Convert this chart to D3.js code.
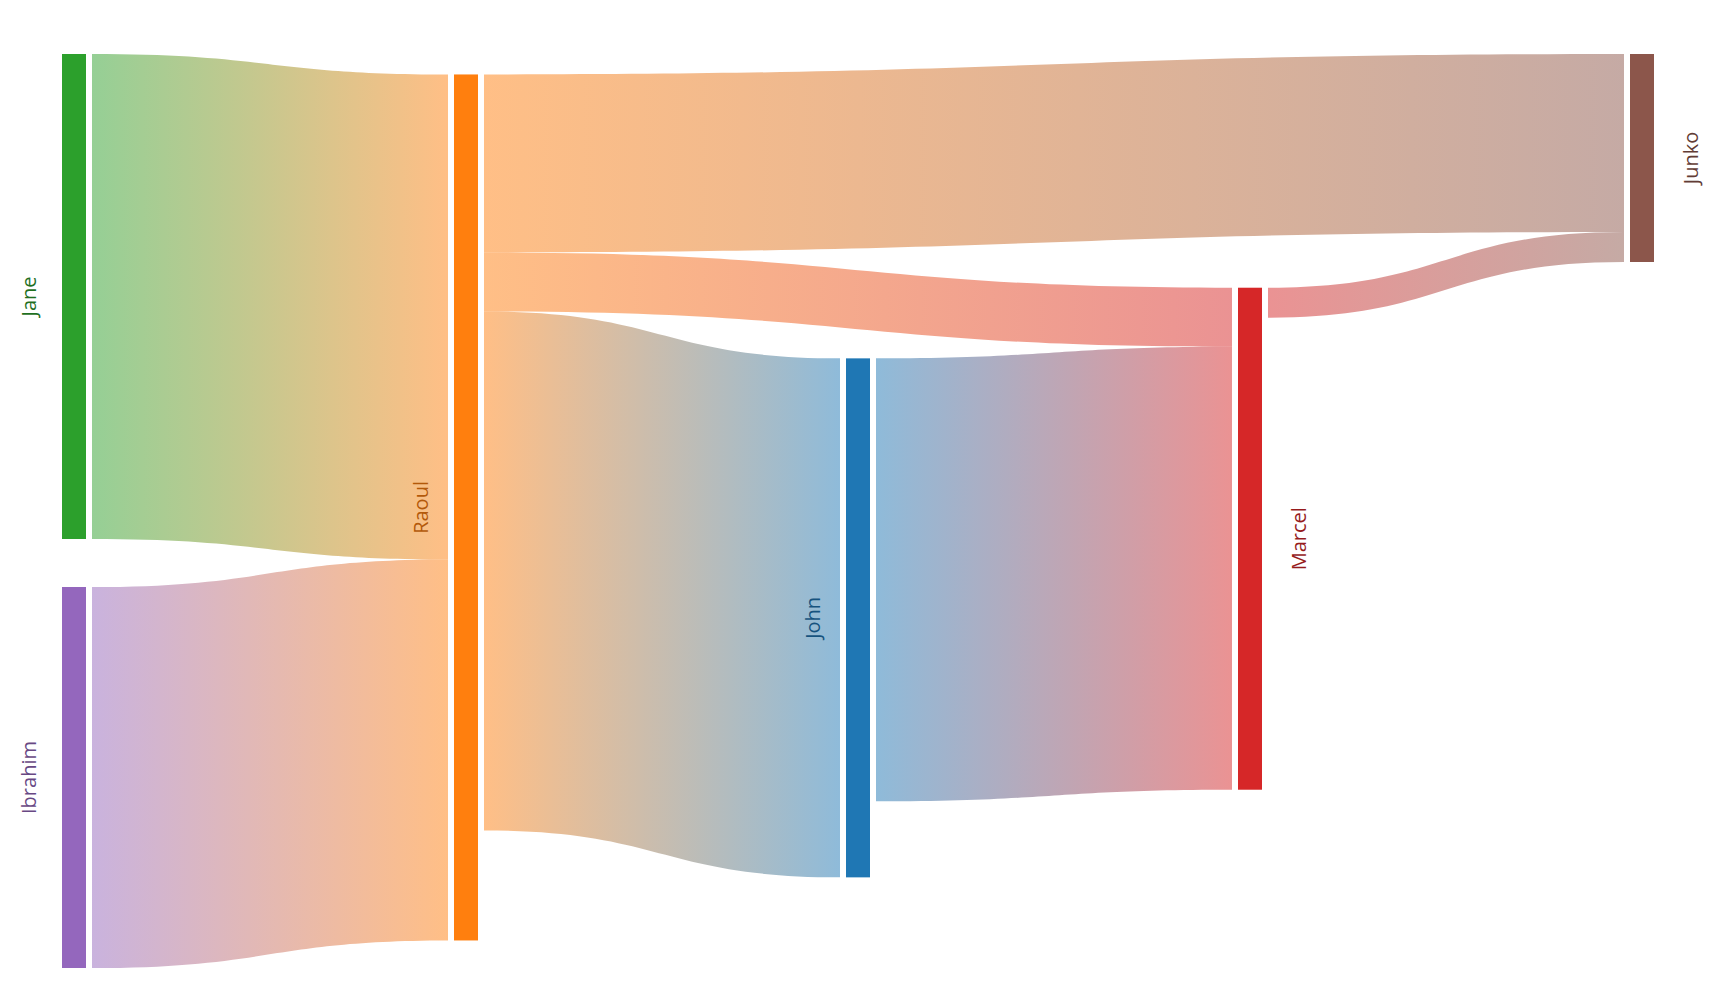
<!DOCTYPE html>
<html>
<head>
<meta charset="utf-8">
<script src="https://cdn.jsdelivr.net/npm/d3@7"></script>
<style>
  html, body { margin: 0; padding: 0; background: #fff; }
  svg { display: block; }
  text { font-family: "Open Sans", "Noto Sans", sans-serif; }
</style>
</head>
<body>
<svg id="chart" width="1728" height="998"></svg>
<script>
// ---------------- data ----------------
const nodeNames   = ["John", "Raoul", "Jane", "Marcel", "Ibrahim", "Junko"];
const linkSources = ["Jane", "Ibrahim", "Raoul", "Raoul", "Raoul", "John", "Marcel"];
const linkTargets = ["Raoul", "Raoul", "Junko", "Marcel", "John", "Marcel", "Junko"];
const linkValues  = [485, 381, 178, 59, 519, 443, 30];

// ---------------- settings ----------------
const W = 1728, H = 998;
const margin = { top: 54, right: 74, bottom: 30, left: 62 };
const nodeWidth = 24, nodePadding = 48, iterations = 6, linkGap = 6;
const linkOpacity = 0.5;

const color = d3.scaleOrdinal().domain(nodeNames).range(d3.schemeCategory10);

// ---------------- sankey layout (d3-sankey algorithm, justify) ----------------
function sankey(nodeNames, srcs, tgts, vals, ext) {
  const [[x0, y0], [x1, y1]] = ext;
  const nodes = nodeNames.map((name, i) => ({ name, index: i, sourceLinks: [], targetLinks: [] }));
  const byName = new Map(nodes.map(n => [n.name, n]));
  const links = vals.map((v, i) => ({ index: i, source: byName.get(srcs[i]), target: byName.get(tgts[i]), value: v }));
  for (const l of links) { l.source.sourceLinks.push(l); l.target.targetLinks.push(l); }
  for (const n of nodes) n.value = Math.max(d3.sum(n.sourceLinks, l => l.value), d3.sum(n.targetLinks, l => l.value));

  let current = new Set(nodes), next = new Set(), x = 0;
  while (current.size) {
    for (const node of current) { node.depth = x; for (const { target } of node.sourceLinks) next.add(target); }
    x++; current = next; next = new Set();
  }
  const n = d3.max(nodes, d => d.depth) + 1;
  const xScale = d3.scaleLinear().domain([0, n - 1]).range([x0, x1 - nodeWidth]);
  const columns = Array.from({ length: n }, () => []);
  for (const node of nodes) {
    const i = Math.max(0, Math.min(n - 1, node.sourceLinks.length ? node.depth : n - 1));
    node.layer = i; node.x0 = xScale(i); node.x1 = node.x0 + nodeWidth;
    columns[i].push(node);
  }

  const py = Math.min(nodePadding, (y1 - y0) / (d3.max(columns, c => c.length) - 1));
  const ky = d3.min(columns, c => (y1 - y0 - (c.length - 1) * py) / d3.sum(c, d => d.value));
  const wScale = d3.scaleLinear().domain([0, 1]).range([0, ky]);

  for (const col of columns) {
    let y = y0;
    for (const node of col) { node.y0 = y; node.y1 = y + wScale(node.value); y = node.y1 + py; }
    y = (y1 - y + py) / (col.length + 1);
    for (let i = 0; i < col.length; ++i) { col[i].y0 += y * (i + 1); col[i].y1 += y * (i + 1); }
  }
  for (const l of links) l.width = wScale(l.value);

  const ascendingBreadth = (a, b) => a.y0 - b.y0;
  const ascSrc = (a, b) => ascendingBreadth(a.source, b.source) || a.index - b.index;
  const ascTgt = (a, b) => ascendingBreadth(a.target, b.target) || a.index - b.index;
  function reorderLinks() { for (const nd of nodes) { nd.sourceLinks.sort(ascTgt); nd.targetLinks.sort(ascSrc); } }
  function reorderNodeLinks({ sourceLinks, targetLinks }) {
    for (const { source: { sourceLinks: s } } of targetLinks) s.sort(ascTgt);
    for (const { target: { targetLinks: t } } of sourceLinks) t.sort(ascSrc);
  }
  function targetTop(source, target) {
    let y = source.y0 - (source.sourceLinks.length - 1) * py / 2;
    for (const { target: node, width } of source.sourceLinks) { if (node === target) break; y += width + py; }
    for (const { source: node, width } of target.targetLinks) { if (node === source) break; y -= width; }
    return y;
  }
  function sourceTop(source, target) {
    let y = target.y0 - (target.targetLinks.length - 1) * py / 2;
    for (const { source: node, width } of target.targetLinks) { if (node === source) break; y += width + py; }
    for (const { target: node, width } of source.sourceLinks) { if (node === target) break; y -= width; }
    return y;
  }
  function topToBottom(col, y, i, alpha) {
    for (; i < col.length; ++i) { const nd = col[i]; const dy = (y - nd.y0) * alpha; if (dy > 1e-6) { nd.y0 += dy; nd.y1 += dy; } y = nd.y1 + py; }
  }
  function bottomToTop(col, y, i, alpha) {
    for (; i >= 0; --i) { const nd = col[i]; const dy = (nd.y1 - y) * alpha; if (dy > 1e-6) { nd.y0 -= dy; nd.y1 -= dy; } y = nd.y0 - py; }
  }
  function resolveCollisions(col, alpha) {
    const i = col.length >> 1; const s = col[i];
    bottomToTop(col, s.y0 - py, i - 1, alpha);
    topToBottom(col, s.y1 + py, i + 1, alpha);
    bottomToTop(col, y1, col.length - 1, alpha);
    topToBottom(col, y0, 0, alpha);
  }
  function relaxLeftToRight(alpha, beta) {
    for (let i = 1; i < columns.length; ++i) {
      const col = columns[i];
      for (const target of col) {
        let y = 0, w = 0;
        for (const { source, value } of target.targetLinks) { const v = value * (target.layer - source.layer); y += targetTop(source, target) * v; w += v; }
        if (!(w > 0)) continue;
        const dy = (y / w - target.y0) * alpha; target.y0 += dy; target.y1 += dy; reorderNodeLinks(target);
      }
      col.sort(ascendingBreadth); resolveCollisions(col, beta);
    }
  }
  function relaxRightToLeft(alpha, beta) {
    for (let i = columns.length - 2; i >= 0; --i) {
      const col = columns[i];
      for (const source of col) {
        let y = 0, w = 0;
        for (const { target, value } of source.sourceLinks) { const v = value * (target.layer - source.layer); y += sourceTop(source, target) * v; w += v; }
        if (!(w > 0)) continue;
        const dy = (y / w - source.y0) * alpha; source.y0 += dy; source.y1 += dy; reorderNodeLinks(source);
      }
      col.sort(ascendingBreadth); resolveCollisions(col, beta);
    }
  }
  reorderLinks();
  for (let i = 0; i < iterations; ++i) {
    const alpha = Math.pow(0.99, i);
    const beta = Math.max(1 - alpha, (i + 1) / iterations);
    relaxRightToLeft(alpha, beta);
    relaxLeftToRight(alpha, beta);
  }
  reorderLinks();
  for (const nd of nodes) {
    let a = nd.y0, b = nd.y0;
    for (const l of nd.sourceLinks) { l.y0 = a + l.width / 2; a += l.width; }
    for (const l of nd.targetLinks) { l.y1 = b + l.width / 2; b += l.width; }
  }
  return { nodes, links };
}

const { nodes, links } = sankey(nodeNames, linkSources, linkTargets, linkValues,
  [[margin.left, margin.top], [W - margin.right, H - margin.bottom]]);

// ---------------- drawing ----------------
const svg = d3.select("#chart");
const defs = svg.append("defs");

function linkPath(l) {
  const xs = l.source.x1 + linkGap, xt = l.target.x0 - linkGap, xm = (xs + xt) / 2;
  const s0 = l.y0 - l.width / 2, s1 = l.y0 + l.width / 2;
  const t0 = l.y1 - l.width / 2, t1 = l.y1 + l.width / 2;
  return `M${xs},${s0}C${xm},${s0} ${xm},${t0} ${xt},${t0}L${xt},${t1}C${xm},${t1} ${xm},${s1} ${xs},${s1}Z`;
}

links.forEach((l, i) => {
  const g = defs.append("linearGradient")
    .attr("id", "grad" + i)
    .attr("gradientUnits", "userSpaceOnUse")
    .attr("x1", l.source.x1 + linkGap).attr("x2", l.target.x0 - linkGap)
    .attr("y1", 0).attr("y2", 0);
  g.append("stop").attr("offset", "0%").attr("stop-color", color(l.source.name));
  g.append("stop").attr("offset", "100%").attr("stop-color", color(l.target.name));
});

svg.append("g")
  .selectAll("path")
  .data(links)
  .join("path")
  .attr("d", linkPath)
  .attr("fill", (d, i) => `url(#grad${i})`)
  .attr("fill-opacity", linkOpacity);

svg.append("g")
  .selectAll("rect")
  .data(nodes)
  .join("rect")
  .attr("x", d => d.x0)
  .attr("y", d => d.y0)
  .attr("width", d => d.x1 - d.x0)
  .attr("height", d => d.y1 - d.y0)
  .attr("fill", d => color(d.name));

svg.append("g")
  .selectAll("text")
  .data(nodes)
  .join("text")
  .attr("transform", d => {
    const left = d.x0 < W / 2;
    const x = left ? d.x0 - 26 : d.x1 + 44;
    return `translate(${x},${(d.y0 + d.y1) / 2}) rotate(-90)`;
  })
  .attr("text-anchor", "middle")
  .attr("font-size", 20)
  .attr("fill", d => d3.color(color(d.name)).darker(1))
  .text(d => d.name);
</script>
</body>
</html>
